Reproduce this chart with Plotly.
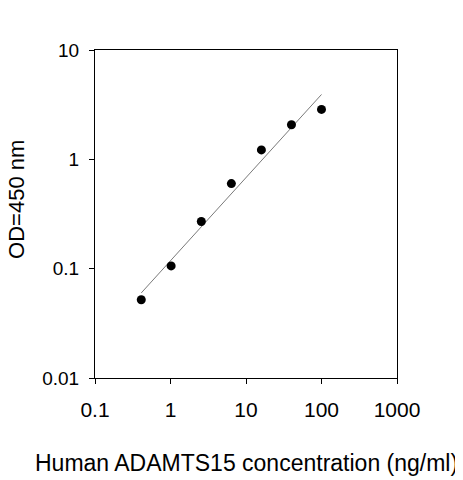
import plotly.graph_objects as go

# standard curve
conc = [0.41, 1.02, 2.56, 6.4, 16.0, 40.0, 100.0]
od = [0.052, 0.106, 0.27, 0.60, 1.22, 2.07, 2.86]

# ends of the fitted line
fit_x = [0.41, 100.0]
fit_y = [0.06, 3.92]

x_ticks = [0.1, 1, 10, 100, 1000]
x_labels = ["0.1", "1", "10", "100", "1000"]
y_ticks = [0.01, 0.1, 1, 10]
y_labels = ["0.01", "0.1", "1", "10"]

font = "Arial, Liberation Sans, sans-serif"

fig = go.Figure()
fig.add_trace(go.Scatter(x=fit_x, y=fit_y, mode="lines",
                         line=dict(color="#7a7a7a", width=1), showlegend=False))
fig.add_trace(go.Scatter(x=conc, y=od, mode="markers",
                         marker=dict(color="black", size=9), showlegend=False))

# page body adds 8px, so the figure is 8px smaller than the window
fig.update_layout(
    width=455, height=472,
    margin=dict(l=87, r=66, t=42, b=102),
    plot_bgcolor="white", paper_bgcolor="white",
    font=dict(family=font, color="black"),
    xaxis=dict(type="log", range=[-1, 3], tickvals=x_ticks, ticktext=x_labels,
               ticks="outside", ticklen=5, tickcolor="black", showgrid=False,
               zeroline=False, showline=True, linecolor="black", linewidth=1,
               mirror=True, tickfont=dict(size=21), ticklabelstandoff=8),
    yaxis=dict(type="log", range=[-2, 1], tickvals=y_ticks, ticktext=y_labels,
               ticks="outside", ticklen=5, tickcolor="black", showgrid=False,
               zeroline=False, showline=True, linecolor="black", linewidth=1,
               mirror=True, tickfont=dict(size=19), ticklabelstandoff=6),
    annotations=[
        dict(text="Human ADAMTS15 concentration (ng/ml)", xref="paper", yref="paper",
             x=0.5, y=0, yanchor="middle", yshift=-85, showarrow=False,
             font=dict(size=23)),
        dict(text="OD=450 nm", xref="paper", yref="paper", textangle=-90,
             x=0, y=0.543, xanchor="center", xshift=-78, showarrow=False,
             font=dict(size=22), borderpad=0),
    ],
)

fig.write_html("out.html")
